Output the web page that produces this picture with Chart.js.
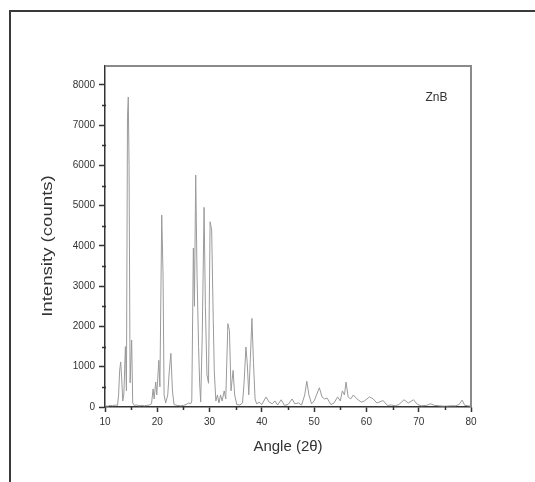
<!DOCTYPE html>
<html>
<head>
<meta charset="utf-8">
<title>ZnB XRD pattern</title>
<script src="https://cdn.jsdelivr.net/npm/chart.js@4/dist/chart.umd.min.js"></script>
<style>
  html, body { margin: 0; padding: 0; background: #fff; }
  #c { display: block; }
</style>
</head>
<body>
<canvas id="c" width="535" height="482"></canvas>
<script>
// Diffraction angle (2θ, degrees)
const angles = [
  10.0, 10.5, 11.0, 11.5, 12.0, 12.4, 12.6, 12.8, 13.0, 13.2, 13.4, 13.6, 13.9, 14.1, 14.3, 14.45, 14.6, 14.8,
  15.1, 15.3, 15.6, 16.0, 16.5, 17.0, 17.5, 18.0, 18.5, 18.9, 19.2, 19.4, 19.7, 19.9, 20.3, 20.5, 20.85, 21.1,
  21.3, 21.6, 22.0, 22.3, 22.6, 22.9, 23.2, 23.8, 24.5, 25.0, 25.5, 26.0, 26.4, 26.6, 26.9, 27.1, 27.35, 27.6,
  27.9, 28.1, 28.3, 28.6, 28.95, 29.2, 29.5, 29.8, 30.1, 30.4, 30.7, 30.9, 31.2, 31.5, 31.8, 32.1, 32.4, 32.8,
  33.1, 33.5, 33.8, 34.1, 34.5, 34.8, 35.2, 35.8, 36.3, 36.6, 36.95, 37.2, 37.5, 37.8, 38.1, 38.4, 38.7, 39.0,
  39.5, 40.0, 40.8, 41.4, 42.0, 42.5, 43.0, 43.7, 44.3, 45.0, 45.8, 46.3, 47.0, 47.6, 48.2, 48.6, 49.0, 49.5,
  50.0, 51.0, 51.5, 52.0, 52.5, 53.2, 53.8, 54.5, 55.0, 55.4, 55.8, 56.1, 56.5, 57.0, 57.5, 58.2, 59.0, 59.6,
  60.6, 61.3, 62.0, 63.2, 64.0, 64.8, 65.5, 66.2, 67.2, 68.0, 69.0, 69.8, 70.5, 71.5, 72.3, 73.0, 74.0, 75.0,
  76.0, 77.0, 77.7, 78.3, 78.8, 79.5, 80.0
];

// Intensity (counts)
const counts = [
  30, 20, 40, 30, 50, 40, 300, 900, 1120, 700, 150, 300, 1500, 400, 7200, 7700, 6000, 600,
  1660, 100, 40, 50, 30, 40, 30, 40, 50, 80, 450, 200, 620, 300, 1160, 500, 4770, 3300,
  300, 100, 300, 900, 1335, 400, 60, 40, 30, 40, 60, 100, 80, 150, 3950, 2500, 5760, 3300,
  1500, 600, 125, 1800, 4960, 2500, 800, 590, 4600, 4400, 2200, 900, 150, 300, 100, 300, 150, 400,
  200, 2070, 1900, 400, 910, 300, 60, 50, 100, 600, 1490, 1100, 300, 1200, 2200, 1100, 200, 80,
  120, 60, 250, 120, 80, 150, 50, 180, 40, 60, 200, 80, 100, 50, 300, 640, 300, 80,
  150, 480, 250, 200, 220, 60, 100, 250, 150, 400, 300, 620, 250, 200, 300, 200, 120, 150,
  250, 200, 100, 160, 40, 50, 30, 60, 180, 100, 180, 60, 30, 40, 80, 40, 30, 20,
  30, 30, 60, 170, 40, 30, 20
];

// Axis ranges and tick values
const xRange = [10, 80];
const yRange = [0, 8470];
const xTicks = [10, 20, 30, 40, 50, 60, 70, 80];
const yTicks = [0, 1000, 2000, 3000, 4000, 5000, 6000, 7000, 8000];
const xTitle = 'Angle (2θ)';
const yTitle = 'Intensity (counts)';
const sampleLabel = 'ZnB';

const INK = '#333333';
const FONT = '"Liberation Sans", Arial, sans-serif';

const points = angles.map((a, i) => ({ x: a, y: counts[i] }));

// Outer page frame, plot box on top/right, minor ticks, y title and the sample label
const decorations = {
  id: 'decorations',
  beforeDraw(chart) {
    const ctx = chart.ctx;
    ctx.save();
    ctx.strokeStyle = '#3a3a3a';
    ctx.lineWidth = 2;
    ctx.beginPath();
    ctx.moveTo(10, 482);
    ctx.lineTo(10, 11);
    ctx.lineTo(535, 11);
    ctx.stroke();
    ctx.restore();
  },
  afterDraw(chart) {
    const ctx = chart.ctx;
    const a = chart.chartArea;
    const xs = chart.scales.x, ys = chart.scales.y;
    ctx.save();
    // top and right edges of the plot box
    ctx.strokeStyle = '#8a8a8a';
    ctx.lineWidth = 2;
    ctx.beginPath();
    ctx.moveTo(a.left, a.top);
    ctx.lineTo(a.right, a.top);
    ctx.lineTo(a.right, a.bottom);
    ctx.stroke();
    // minor ticks halfway between the major ones
    ctx.strokeStyle = INK;
    ctx.lineWidth = 1.5;
    ctx.beginPath();
    for (let i = 0; i < xTicks.length - 1; i++) {
      const px = Math.round(xs.getPixelForValue((xTicks[i] + xTicks[i + 1]) / 2)) + 0.5;
      ctx.moveTo(px, a.bottom - 1);
      ctx.lineTo(px, a.bottom + 3);
    }
    for (let i = 0; i < yTicks.length; i++) {
      const v = yTicks[i] + (yTicks[1] - yTicks[0]) / 2;
      if (v >= yRange[1]) break;
      const py = Math.round(ys.getPixelForValue(v)) + 0.5;
      ctx.moveTo(a.left + 1, py);
      ctx.lineTo(a.left - 3, py);
    }
    ctx.stroke();
    // y axis title, stretched along its length
    ctx.save();
    ctx.translate(48, 246);
    ctx.rotate(-Math.PI / 2);
    ctx.scale(1.24, 1);
    ctx.fillStyle = INK;
    ctx.font = '15px ' + FONT;
    ctx.textAlign = 'center';
    ctx.textBaseline = 'middle';
    ctx.fillText(yTitle, 0, 0);
    ctx.restore();
    // sample label
    ctx.fillStyle = INK;
    ctx.font = '12px ' + FONT;
    ctx.textAlign = 'center';
    ctx.textBaseline = 'middle';
    ctx.fillText(sampleLabel, xs.getPixelForValue(73.4), ys.getPixelForValue(7680));
    ctx.restore();
  }
};

new Chart(document.getElementById('c'), {
  type: 'line',
  data: {
    datasets: [{
      data: points,
      borderColor: '#9a9a9a',
      borderWidth: 1,
      pointRadius: 0,
      tension: 0,
      fill: false
    }]
  },
  options: {
    responsive: false,
    animation: false,
    devicePixelRatio: 1,
    layout: { padding: { left: 0, top: 66, right: 64, bottom: 0 } },
    plugins: { legend: { display: false }, tooltip: { enabled: false } },
    scales: {
      x: {
        type: 'linear',
        min: xRange[0],
        max: xRange[1],
        afterBuildTicks(scale) { scale.ticks = xTicks.map(v => ({ value: v })); },
        afterFit(scale) { scale.height = 75; },
        border: { display: true, color: INK, width: 1.5 },
        grid: { display: true, drawOnChartArea: false, drawTicks: true, tickLength: 5, tickColor: INK, tickWidth: 1.5 },
        ticks: { color: INK, padding: 4, maxRotation: 0, autoSkip: false, callback: v => String(v), font: { family: FONT, size: 10 } },
        title: { display: true, text: xTitle, color: INK, font: { family: FONT, size: 15 }, padding: { top: 0, bottom: 26 } }
      },
      y: {
        type: 'linear',
        min: yRange[0],
        max: yRange[1],
        afterBuildTicks(scale) { scale.ticks = yTicks.map(v => ({ value: v })); },
        afterFit(scale) { scale.width = 105; },
        border: { display: true, color: INK, width: 1.5 },
        grid: { display: true, drawOnChartArea: false, drawTicks: true, tickLength: 6, tickColor: INK, tickWidth: 1.5 },
        ticks: { color: INK, padding: 4, autoSkip: false, callback: v => String(v), font: { family: FONT, size: 10 } },
        title: { display: false }
      }
    }
  },
  plugins: [decorations]
});
</script>
</body>
</html>
